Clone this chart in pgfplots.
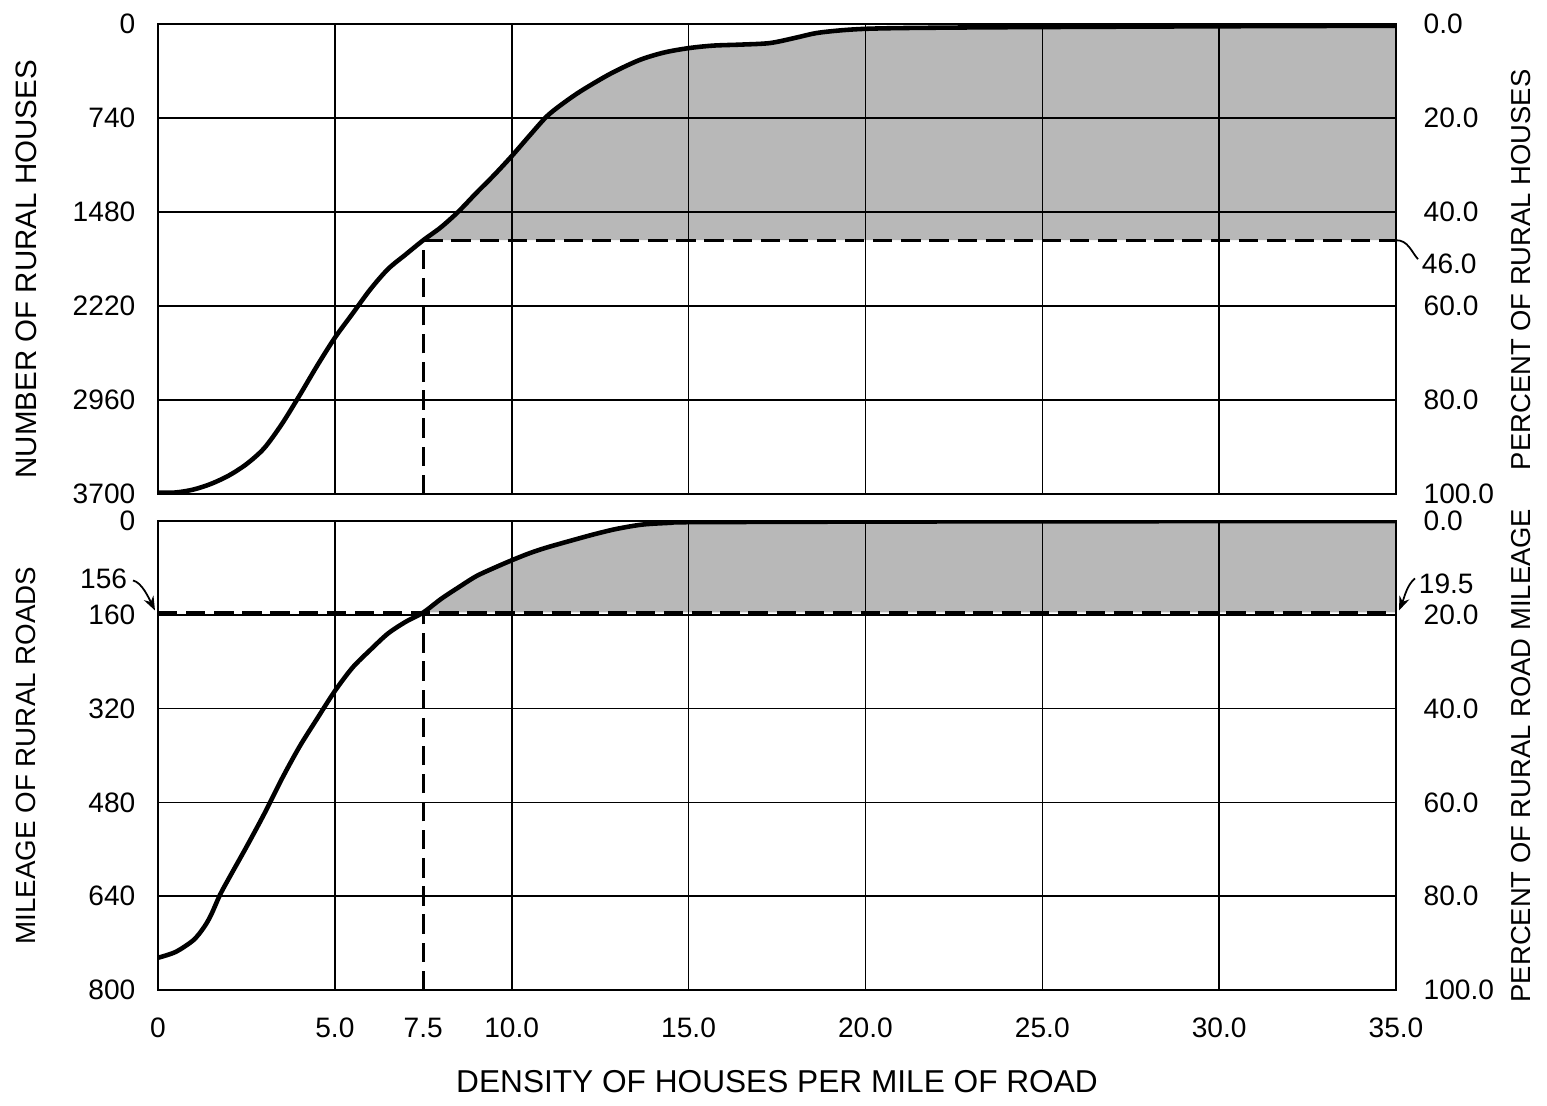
\documentclass[border=0pt]{standalone}
\usepackage{fontspec}
\setmainfont{Liberation Sans}
\usepackage{pgfplots}
\usepackage{pgfplotstable}
\pgfplotsset{compat=1.18}
\usepgfplotslibrary{fillbetween}
\usetikzlibrary{arrows.meta}

% cumulative rural houses (count from the top) against density
\pgfplotstableread{
x y
0 3690
0.5 3688
1.0 3665
1.5 3620
2.0 3555
2.5 3465
3.0 3340
3.5 3150
4.0 2925
4.5 2690
5.0 2470
5.5 2280
6.0 2090
6.5 1930
7.0 1815
7.5 1702
8.0 1600
8.5 1475
9.0 1330
9.5 1190
10.0 1040
10.5 880
11.0 725
11.5 615
12.0 520
12.8 390
13.6 285
14.3 225
15.0 190
15.7 170
16.5 162
17.3 150
18.0 110
18.6 72
19.3 50
20.0 38
21.0 32
23.0 27
25.0 24
30.0 18
35.0 14
}\houses

% cumulative rural road mileage
\pgfplotstableread{
x y
0 745
0.5 735
1.0 715
1.3 693
1.5 672
1.75 638
2.0 610
2.5 556
3.0 500
3.5 440
4.0 385
4.5 337
5.0 290
5.5 250
6.0 220
6.5 192
7.0 172
7.5 156
8.0 133
8.5 113
9.0 94
9.5 80
10.0 67
10.5 55
11.0 45
12.0 28
12.5 20
13.0 13
13.7 6
14.5 3
15.0 2
20.0 1
25.0 0.5
35.0 0
}\roads

\pgfplotsset{
  panel/.style={
    anchor=south west, scale only axis, width=12.38cm,
    xmin=0, xmax=35, y dir=reverse,
    axis on top, grid=major,
    major grid style={black, line width=0.45pt},
    axis line style={black, line width=0.7pt},
    major tick length=0pt, tick style={draw=none},
    xtick={0,5,10,15,20,25,30,35},
    ticklabel style={font=\fontsize{8}{9}\selectfont},
    yticklabel style={anchor=east, inner sep=0pt, xshift=-0.22cm},
    xticklabel style={anchor=north, inner sep=0pt, yshift=-0.27cm},
  },
  side/.style={
    anchor=south west, scale only axis, width=12.38cm,
    xmin=0, xmax=35, y dir=reverse,
    axis x line=none, axis y line*=right,
    axis line style={black, line width=0.7pt},
    major tick length=0pt, tick style={draw=none},
    ticklabel style={font=\fontsize{8}{9}\selectfont},
    yticklabel style={anchor=west, inner sep=0pt, xshift=0.27cm},
  },
  curve/.style={black, line width=1.3pt, smooth},
  guide/.style={black, line width=0.9pt, dash pattern=on 5.5pt off 2.5pt},
  shade/.style={fill=black!28},
}

\begin{document}
\begin{tikzpicture}

% ---- top panel: houses
\begin{axis}[panel, at={(1.58cm,6.11cm)}, height=4.70cm,
  ymin=0, ymax=3700,
  ytick={0,740,1480,2220,2960,3700},
  yticklabels={0,740,1480,2220,2960,3700},
  xticklabels={},
  ylabel={NUMBER OF RURAL HOUSES},
  ylabel style={at={(axis description cs:-0.1066,0.478)}, anchor=center,
    font=\fontsize{8.4}{10}\selectfont}]
\addplot[curve, name path=hc] table {\houses};
\addplot[guide, name path=hd] coordinates {(7.5,1702) (35,1702)};
\addplot[guide] coordinates {(7.5,3700) (7.5,1702)};
\addplot[shade] fill between[of=hc and hd, soft clip={domain=7.5:35}];
\coordinate (h46) at (axis cs:35,1702);
\end{axis}
\begin{axis}[side, at={(1.58cm,6.11cm)}, height=4.70cm,
  ymin=0, ymax=3700,
  ytick={0,740,1480,2220,2960,3700},
  yticklabels={0.0,20.0,40.0,60.0,80.0,100.0},
  ylabel={PERCENT OF RURAL HOUSES},
  ylabel style={at={(axis description cs:1.101,0.477)}, anchor=center,
    font=\fontsize{7.8}{9}\selectfont}]
\addplot[draw=none] table {\houses};
\end{axis}

% ---- bottom panel: roads
\begin{axis}[panel, at={(1.58cm,1.15cm)}, height=4.69cm,
  ymin=0, ymax=800,
  ytick={0,160,320,480,640,800},
  yticklabels={0,160,320,480,640,800},
  xticklabels={0,5.0,10.0,15.0,20.0,25.0,30.0,35.0},
  extra x ticks={7.5}, extra x tick labels={7.5},
  extra x tick style={grid=none},
  ylabel={MILEAGE OF RURAL ROADS},
  ylabel style={at={(axis description cs:-0.1066,0.5)}, anchor=center,
    font=\fontsize{7.9}{9}\selectfont},
  xlabel={DENSITY OF HOUSES PER MILE OF ROAD},
  xlabel style={at={(axis description cs:0.5,-0.196)}, anchor=center,
    font=\fontsize{9.0}{11}\selectfont}]
\addplot[curve, name path=rc] table {\roads};
\addplot[guide, name path=rd] coordinates {(0,156) (35,156)};
\addplot[guide] coordinates {(7.5,800) (7.5,156)};
\addplot[shade] fill between[of=rc and rd, soft clip={domain=7.5:35}];
\coordinate (l156) at (axis cs:0,156);
\coordinate (r195) at (axis cs:35,156);
\end{axis}
\begin{axis}[side, at={(1.58cm,1.15cm)}, height=4.69cm,
  ymin=0, ymax=800,
  ytick={0,160,320,480,640,800},
  yticklabels={0.0,20.0,40.0,60.0,80.0,100.0},
  ylabel={PERCENT OF RURAL ROAD MILEAGE},
  ylabel style={at={(axis description cs:1.101,0.5)}, anchor=center,
    font=\fontsize{7.8}{9}\selectfont}]
\addplot[draw=none] table {\roads};
\end{axis}

% ---- call-outs
\begin{scope}[font=\fontsize{8}{9}\selectfont, line width=0.5pt]
\draw (h46) .. controls +(0.12,0) and +(-0.07,0.08) .. +(0.22,-0.19);
\node[anchor=west, inner sep=0pt] at ([xshift=0.25cm,yshift=-0.24cm]h46) {46.0};
\draw[-{Stealth[length=4pt,width=3pt]}] ([xshift=0.19cm,yshift=0.34cm]r195)
  .. controls +(-0.08,-0.06) and +(0.05,0.12) .. ([xshift=0.03cm,yshift=0.02cm]r195);
\node[anchor=west, inner sep=0pt] at ([xshift=0.22cm,yshift=0.29cm]r195) {19.5};
\draw[-{Stealth[length=4pt,width=3pt]}] ([xshift=-0.25cm,yshift=0.32cm]l156)
  .. controls +(0.09,-0.02) and +(-0.06,0.12) .. ([xshift=-0.03cm,yshift=0.02cm]l156);
\node[anchor=east, inner sep=0pt] at ([xshift=-0.30cm,yshift=0.34cm]l156) {156};
\end{scope}

\pgfresetboundingbox
\path[use as bounding box] (0,0) rectangle (15.47,11.05);
\end{tikzpicture}
\end{document}
